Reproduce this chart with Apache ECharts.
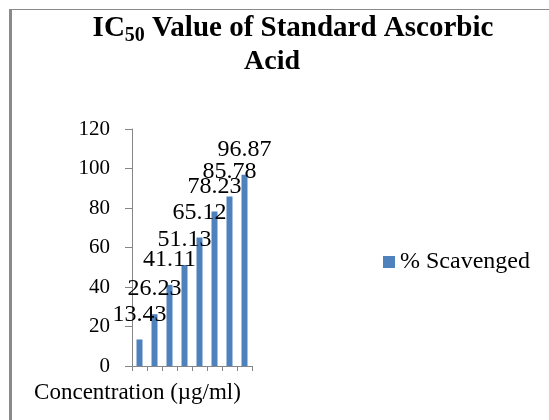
<!DOCTYPE html>
<html>
<head>
<meta charset="utf-8">
<script src="https://cdn.jsdelivr.net/npm/echarts@6/dist/echarts.min.js"></script>
<style>
  html, body { margin: 0; padding: 0; background: #fff; overflow: hidden; }
  #frame {
    position: absolute; left: 9px; top: 9px; width: 600px; height: 480px;
    border-left: 3px solid #8a8a8a; border-top: 1px solid #8a8a8a;
  }
  #chart { position: absolute; left: 0; top: 0; width: 549px; height: 420px; }
</style>
</head>
<body>
<div id="frame"></div>
<div id="chart"></div>
<script>
// Sample order along the concentration axis (labels are not shown)
const samples = ['1', '2', '3', '4', '5', '6', '7', '8'];
// % scavenging activity for each concentration
const scavenged = [13.43, 26.23, 41.11, 51.13, 65.12, 78.23, 85.78, 96.87];
// Value axis ticks
const yTicks = { min: 0, max: 120, step: 20 };

const serif = "'Liberation Serif', 'Times New Roman', serif";
const blue = '#4f81bd';
const axisGray = '#868686';

const chart = echarts.init(document.getElementById('chart'), null, { renderer: 'canvas' });

chart.setOption({
  animation: false,
  backgroundColor: 'transparent',
  graphic: [
    {
      type: 'text',
      x: 293, y: 29,
      style: {
        text: '{m|IC}{s|50}{m| Value of Standard Ascorbic}',
        align: 'center', verticalAlign: 'middle',
        rich: {
          m: { fontFamily: serif, fontSize: 29, fontWeight: 'bold', lineHeight: 34, fill: '#000' },
          s: { fontFamily: serif, fontSize: 20, fontWeight: 'bold', lineHeight: 20, verticalAlign: 'bottom', fill: '#000' }
        }
      }
    },
    {
      type: 'text',
      x: 272, y: 62,
      style: {
        text: 'Acid', align: 'center', verticalAlign: 'middle',
        fontFamily: serif, fontSize: 28, fontWeight: 'bold', fill: '#000'
      }
    },
    {
      type: 'text',
      x: 137.5, y: 392.5,
      style: {
        text: 'Concentration (µg/ml)', align: 'center', verticalAlign: 'middle',
        fontFamily: serif, fontSize: 23, fill: '#000'
      }
    }
  ],
  legend: {
    left: 383, top: 250, padding: 0,
    icon: 'rect', itemWidth: 12, itemHeight: 12,
    textStyle: { fontFamily: serif, fontSize: 24, color: '#000' },
    data: ['% Scavenged']
  },
  grid: { left: 132, top: 129, width: 120, height: 237, containLabel: false },
  xAxis: {
    type: 'category',
    data: samples,
    boundaryGap: true,
    axisLine: { lineStyle: { color: axisGray, width: 1 } },
    axisTick: { show: true, interval: 0, length: 5, lineStyle: { color: axisGray } },
    axisLabel: { show: false },
    splitLine: { show: false }
  },
  yAxis: {
    type: 'value',
    min: yTicks.min, max: yTicks.max, interval: yTicks.step,
    axisLine: { show: true, lineStyle: { color: axisGray, width: 1 } },
    axisTick: { show: true, length: 7, lineStyle: { color: axisGray } },
    axisLabel: { margin: 22, fontFamily: serif, fontSize: 21, color: '#000' },
    splitLine: { show: false }
  },
  series: [{
    name: '% Scavenged',
    type: 'bar',
    data: scavenged,
    barWidth: '40%',
    itemStyle: { color: blue },
    label: {
      show: true, position: 'top', distance: 13,
      fontFamily: serif, fontSize: 24, color: '#000',
      formatter: p => p.value.toFixed(2)
    }
  }]
});
</script>
</body>
</html>
